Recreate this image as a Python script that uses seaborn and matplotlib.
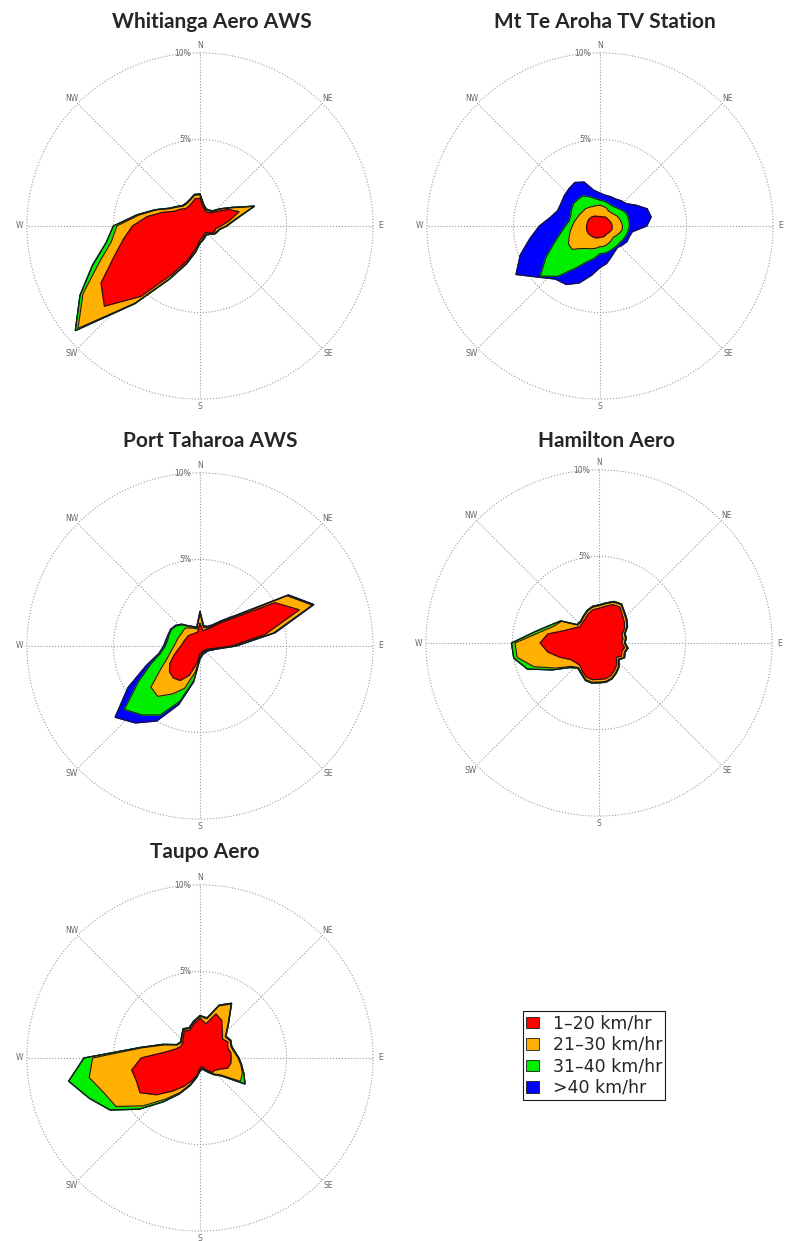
import numpy as np
import matplotlib
matplotlib.use("Agg")
import matplotlib.pyplot as plt
import seaborn as sns
from matplotlib.patches import Patch

sns.set_theme(style="white")
plt.rcParams['font.family'] = ['DejaVu Sans']

# wind direction bins (deg, from north, clockwise)
directions = list(range(0, 360, 10))
compass = ["N", "NE", "E", "SE", "S", "SW", "W", "NW"]
speed_labels = ["1\u201320 km/hr", "21\u201330 km/hr", "31\u201340 km/hr", ">40 km/hr"]
band_colors = ["#ff0000", "#ffb000", "#00ee00", "#0000ff"]

# cumulative frequency (%) at outer edge of each speed band, per direction
whit_20 = [1.6, 1.1, 0.9, 0.9, 1.0, 1.3, 1.9, 2.4, 1.7, 1.2, 0.9, 0.9, 0.8, 0.6, 0.5, 0.5, 0.6, 0.7,
           0.8, 1.3, 2.1, 3.2, 5.3, 7.2, 6.6, 5.3, 4.5, 3.9, 3.1, 2.3, 1.7, 1.5, 1.3, 1.3, 1.4, 1.6]
whit_30 = [1.8, 1.2, 1.0, 1.0, 1.1, 1.5, 2.1, 3.3, 2.0, 1.5, 1.1, 1.0, 0.9, 0.7, 0.6, 0.6, 0.7, 0.8,
           0.95, 1.5, 2.3, 3.5, 5.8, 9.2, 7.8, 6.2, 5.2, 4.8, 3.6, 2.7, 2.0, 1.7, 1.5, 1.5, 1.6, 1.8]
whit_40 = [1.85, 1.25, 1.05, 1.05, 1.15, 1.55, 2.15, 3.35, 2.05, 1.55, 1.15, 1.05, 0.95, 0.75, 0.65, 0.65, 0.75, 0.85,
           1.0, 1.55, 2.35, 3.55, 5.85, 9.4, 8.0, 6.6, 5.5, 5.0, 3.7, 2.75, 2.05, 1.75, 1.55, 1.55, 1.65, 1.85]
whit_all = [1.85, 1.25, 1.05, 1.05, 1.15, 1.55, 2.15, 3.35, 2.05, 1.55, 1.15, 1.05, 0.95, 0.75, 0.65, 0.65, 0.75, 0.85,
            1.0, 1.55, 2.35, 3.55, 5.85, 9.4, 8.0, 6.6, 5.5, 5.0, 3.7, 2.75, 2.05, 1.75, 1.55, 1.55, 1.65, 1.85]

aroha_20 = [0.55, 0.55, 0.55, 0.6, 0.6, 0.6, 0.62, 0.65, 0.68, 0.7, 0.72, 0.7, 0.65, 0.62, 0.6, 0.62, 0.65, 0.65,
            0.65, 0.7, 0.72, 0.75, 0.75, 0.78, 0.8, 0.8, 0.78, 0.77, 0.75, 0.75, 0.75, 0.72, 0.7, 0.65, 0.6, 0.55]
aroha_30 = [1.2, 1.15, 1.1, 1.0, 1.0, 1.05, 1.15, 1.2, 1.25, 1.3, 1.3, 1.2, 1.1, 1.0, 1.05, 1.1, 1.15, 1.2,
            1.2, 1.3, 1.4, 1.5, 1.7, 2.1, 2.1, 1.9, 1.75, 1.6, 1.5, 1.4, 1.35, 1.3, 1.3, 1.25, 1.2, 1.2]
aroha_40 = [1.5, 1.45, 1.4, 1.35, 1.4, 1.5, 1.65, 1.7, 1.7, 1.7, 1.65, 1.6, 1.55, 1.5, 1.5, 1.5, 1.55, 1.6,
            1.6, 1.9, 2.2, 2.8, 3.8, 4.5, 3.6, 2.8, 2.3, 2.0, 1.8, 1.8, 1.9, 2.0, 2.0, 2.0, 1.8, 1.6]
aroha_all = [1.9, 1.8, 1.8, 1.8, 1.9, 2.0, 2.4, 2.9, 3.0, 2.7, 1.9, 1.8, 1.8, 1.7, 1.6, 1.7, 1.9, 2.2,
             2.4, 2.9, 3.5, 3.9, 4.0, 4.6, 5.6, 4.9, 4.1, 3.5, 2.9, 2.6, 2.6, 2.7, 2.8, 2.9, 2.7, 2.1]

taha_20 = [1.3, 0.9, 1.0, 1.2, 1.7, 2.5, 5.0, 6.1, 3.8, 1.8, 0.8, 0.5, 0.4, 0.35, 0.35, 0.35, 0.35, 0.4,
           0.45, 1.0, 1.8, 2.3, 2.4, 2.3, 2.0, 1.6, 1.3, 1.1, 1.0, 0.95, 0.9, 0.9, 0.85, 0.8, 0.8, 0.8]
taha_30 = [1.9, 1.1, 1.1, 1.3, 1.8, 2.7, 5.8, 6.9, 4.3, 2.0, 0.9, 0.6, 0.45, 0.4, 0.4, 0.4, 0.4, 0.5,
           0.6, 1.5, 2.6, 3.2, 3.8, 3.7, 2.6, 2.0, 1.7, 1.5, 1.4, 1.35, 1.3, 1.3, 1.35, 1.2, 1.1, 1.0]
taha_40 = [1.95, 1.15, 1.15, 1.35, 1.85, 2.75, 5.85, 6.95, 4.35, 2.05, 0.95, 0.65, 0.5, 0.45, 0.45, 0.45, 0.45, 0.55,
           0.7, 2.0, 3.4, 4.6, 5.2, 5.7, 4.1, 3.0, 2.3, 2.0, 1.9, 1.9, 1.9, 1.8, 1.6, 1.3, 1.15, 1.05]
taha_all = [2.0, 1.2, 1.2, 1.4, 1.9, 2.8, 5.9, 7.0, 4.4, 2.1, 1.0, 0.7, 0.55, 0.5, 0.5, 0.5, 0.5, 0.6,
            0.75, 2.1, 3.6, 5.0, 5.8, 6.4, 4.8, 3.3, 2.4, 2.1, 2.0, 1.95, 1.95, 1.85, 1.65, 1.35, 1.2, 1.1]

ham_20 = [2.0, 2.15, 2.35, 2.4, 2.1, 1.9, 1.7, 1.4, 1.4, 1.3, 1.5, 1.4, 1.5, 1.3, 1.6, 1.8, 2.0, 2.1,
          2.1, 2.15, 2.1, 1.9, 1.7, 1.75, 1.9, 2.4, 3.0, 3.4, 3.0, 2.1, 1.7, 1.45, 1.5, 1.6, 1.8, 1.95]
ham_30 = [2.15, 2.3, 2.5, 2.55, 2.25, 2.05, 1.85, 1.55, 1.55, 1.45, 1.65, 1.55, 1.65, 1.45, 1.75, 1.95, 2.15, 2.25,
          2.25, 2.3, 2.25, 2.0, 1.85, 2.1, 2.9, 4.0, 4.8, 4.85, 3.5, 2.8, 2.5, 1.6, 1.6, 1.75, 1.95, 2.1]
ham_40 = [2.2, 2.35, 2.55, 2.6, 2.3, 2.1, 1.9, 1.6, 1.6, 1.5, 1.7, 1.6, 1.7, 1.5, 1.8, 2.0, 2.2, 2.3,
          2.3, 2.35, 2.3, 2.05, 1.9, 2.2, 3.1, 4.4, 5.0, 5.05, 3.75, 3.0, 2.55, 1.65, 1.65, 1.8, 2.0, 2.15]
ham_all = [2.2, 2.35, 2.55, 2.6, 2.3, 2.1, 1.9, 1.6, 1.6, 1.5, 1.7, 1.6, 1.7, 1.5, 1.8, 2.0, 2.2, 2.3,
           2.3, 2.35, 2.3, 2.05, 1.9, 2.2, 3.1, 4.4, 5.0, 5.05, 3.75, 3.0, 2.55, 1.65, 1.65, 1.8, 2.0, 2.15]

taupo_20 = [2.3, 2.0, 2.7, 2.5, 2.0, 1.7, 1.85, 1.7, 1.8, 1.8, 1.8, 1.7, 1.3, 1.1, 1.1, 0.8, 0.6, 0.5,
            0.6, 1.0, 1.4, 1.9, 2.5, 3.3, 4.0, 3.9, 4.0, 3.4, 2.0, 1.5, 1.3, 1.3, 1.5, 1.8, 1.7, 2.0]
taupo_30 = [2.4, 2.3, 3.2, 3.6, 2.5, 1.9, 2.0, 1.9, 2.0, 2.2, 2.4, 2.6, 2.7, 1.5, 1.2, 0.9, 0.7, 0.6,
            0.7, 1.1, 1.6, 2.3, 3.1, 4.3, 5.6, 5.9, 6.5, 6.2, 3.4, 2.2, 1.5, 1.4, 1.6, 1.9, 1.8, 2.1]
taupo_40 = [2.45, 2.35, 3.25, 3.65, 2.55, 1.95, 2.05, 1.95, 2.05, 2.25, 2.45, 2.7, 3.0, 1.6, 1.25, 0.95, 0.75, 0.65,
            0.75, 1.15, 1.7, 2.4, 3.3, 4.6, 6.0, 6.8, 7.7, 6.7, 3.5, 2.3, 1.55, 1.45, 1.65, 1.95, 1.85, 2.15]
taupo_all = [2.45, 2.35, 3.25, 3.65, 2.55, 1.95, 2.05, 1.95, 2.05, 2.25, 2.45, 2.7, 3.0, 1.6, 1.25, 0.95, 0.75, 0.65,
             0.75, 1.15, 1.7, 2.4, 3.3, 4.6, 6.0, 6.8, 7.7, 6.7, 3.5, 2.3, 1.55, 1.45, 1.65, 1.95, 1.85, 2.15]

stations = [
    ("Whitianga Aero AWS", [whit_20, whit_30, whit_40, whit_all]),
    ("Mt Te Aroha TV Station", [aroha_20, aroha_30, aroha_40, aroha_all]),
    ("Port Taharoa AWS", [taha_20, taha_30, taha_40, taha_all]),
    ("Hamilton Aero", [ham_20, ham_30, ham_40, ham_all]),
    ("Taupo Aero", [taupo_20, taupo_30, taupo_40, taupo_all]),
]

# pixel layout: rose centres and title positions
W, H = 789, 1241
R = 174
centres = [(200, 226), (600, 226), (200, 646), (599, 643), (200, 1058)]
title_pos = [(212, 22), (605, 22), (210, 441), (607, 441), (205, 852)]

fig = plt.figure(figsize=(W / 100, H / 100), dpi=100)

theta = np.deg2rad(directions + [360])
for (name, bands), (cx, cy), (tx, ty) in zip(stations, centres, title_pos):
    ax = fig.add_axes([(cx - R) / W, (H - cy - R) / H, 2 * R / W, 2 * R / H], projection="polar")
    ax.set_theta_zero_location("N")
    ax.set_theta_direction(-1)

    # outermost band first so inner ones sit on top
    for vals, col in reversed(list(zip(bands, band_colors))):
        r = list(vals) + [vals[0]]
        ax.fill(theta, r, color=col, zorder=2)
        sns.lineplot(x=theta, y=r, sort=False, estimator=None, color="k", lw=0.8, ax=ax, zorder=3)

    ax.set_ylim(0, 10.05)
    ax.set_yticks([5, 10])
    ax.set_yticklabels([])
    ax.set_xticks(np.deg2rad(range(0, 360, 45)))
    ax.set_xticklabels(compass, fontsize=5.5, color="#666666")
    ax.tick_params(axis="x", pad=-8)
    ax.grid(True, linestyle=":", color="#999999", lw=0.8)
    ax.spines["polar"].set_visible(False)
    ax.set_xlabel("")
    ax.set_ylabel("")
    ax.text(np.deg2rad(-6), 5, "5%", ha="right", va="center", fontsize=5.5, color="#666666")
    ax.text(np.deg2rad(-3), 10, "10%", ha="right", va="center", fontsize=5.5, color="#666666")

    fig.text(tx / W, 1 - ty / H, name, ha="center", va="center",
             fontsize=15, fontweight="bold", family="Lato")

handles = [Patch(facecolor=c, edgecolor="k", lw=0.6) for c in band_colors]
leg = fig.legend(handles, speed_labels, loc="upper left", bbox_to_anchor=(523 / W, 1 - 1011 / H),
                 frameon=True, fancybox=False, edgecolor="k", framealpha=1, fontsize=12.5,
                 handlelength=0.75, handleheight=0.65, borderpad=0.2, labelspacing=0.2,
                 handletextpad=0.75, borderaxespad=0)
leg.get_frame().set_linewidth(0.8)

fig.savefig("out.png", dpi=100)
